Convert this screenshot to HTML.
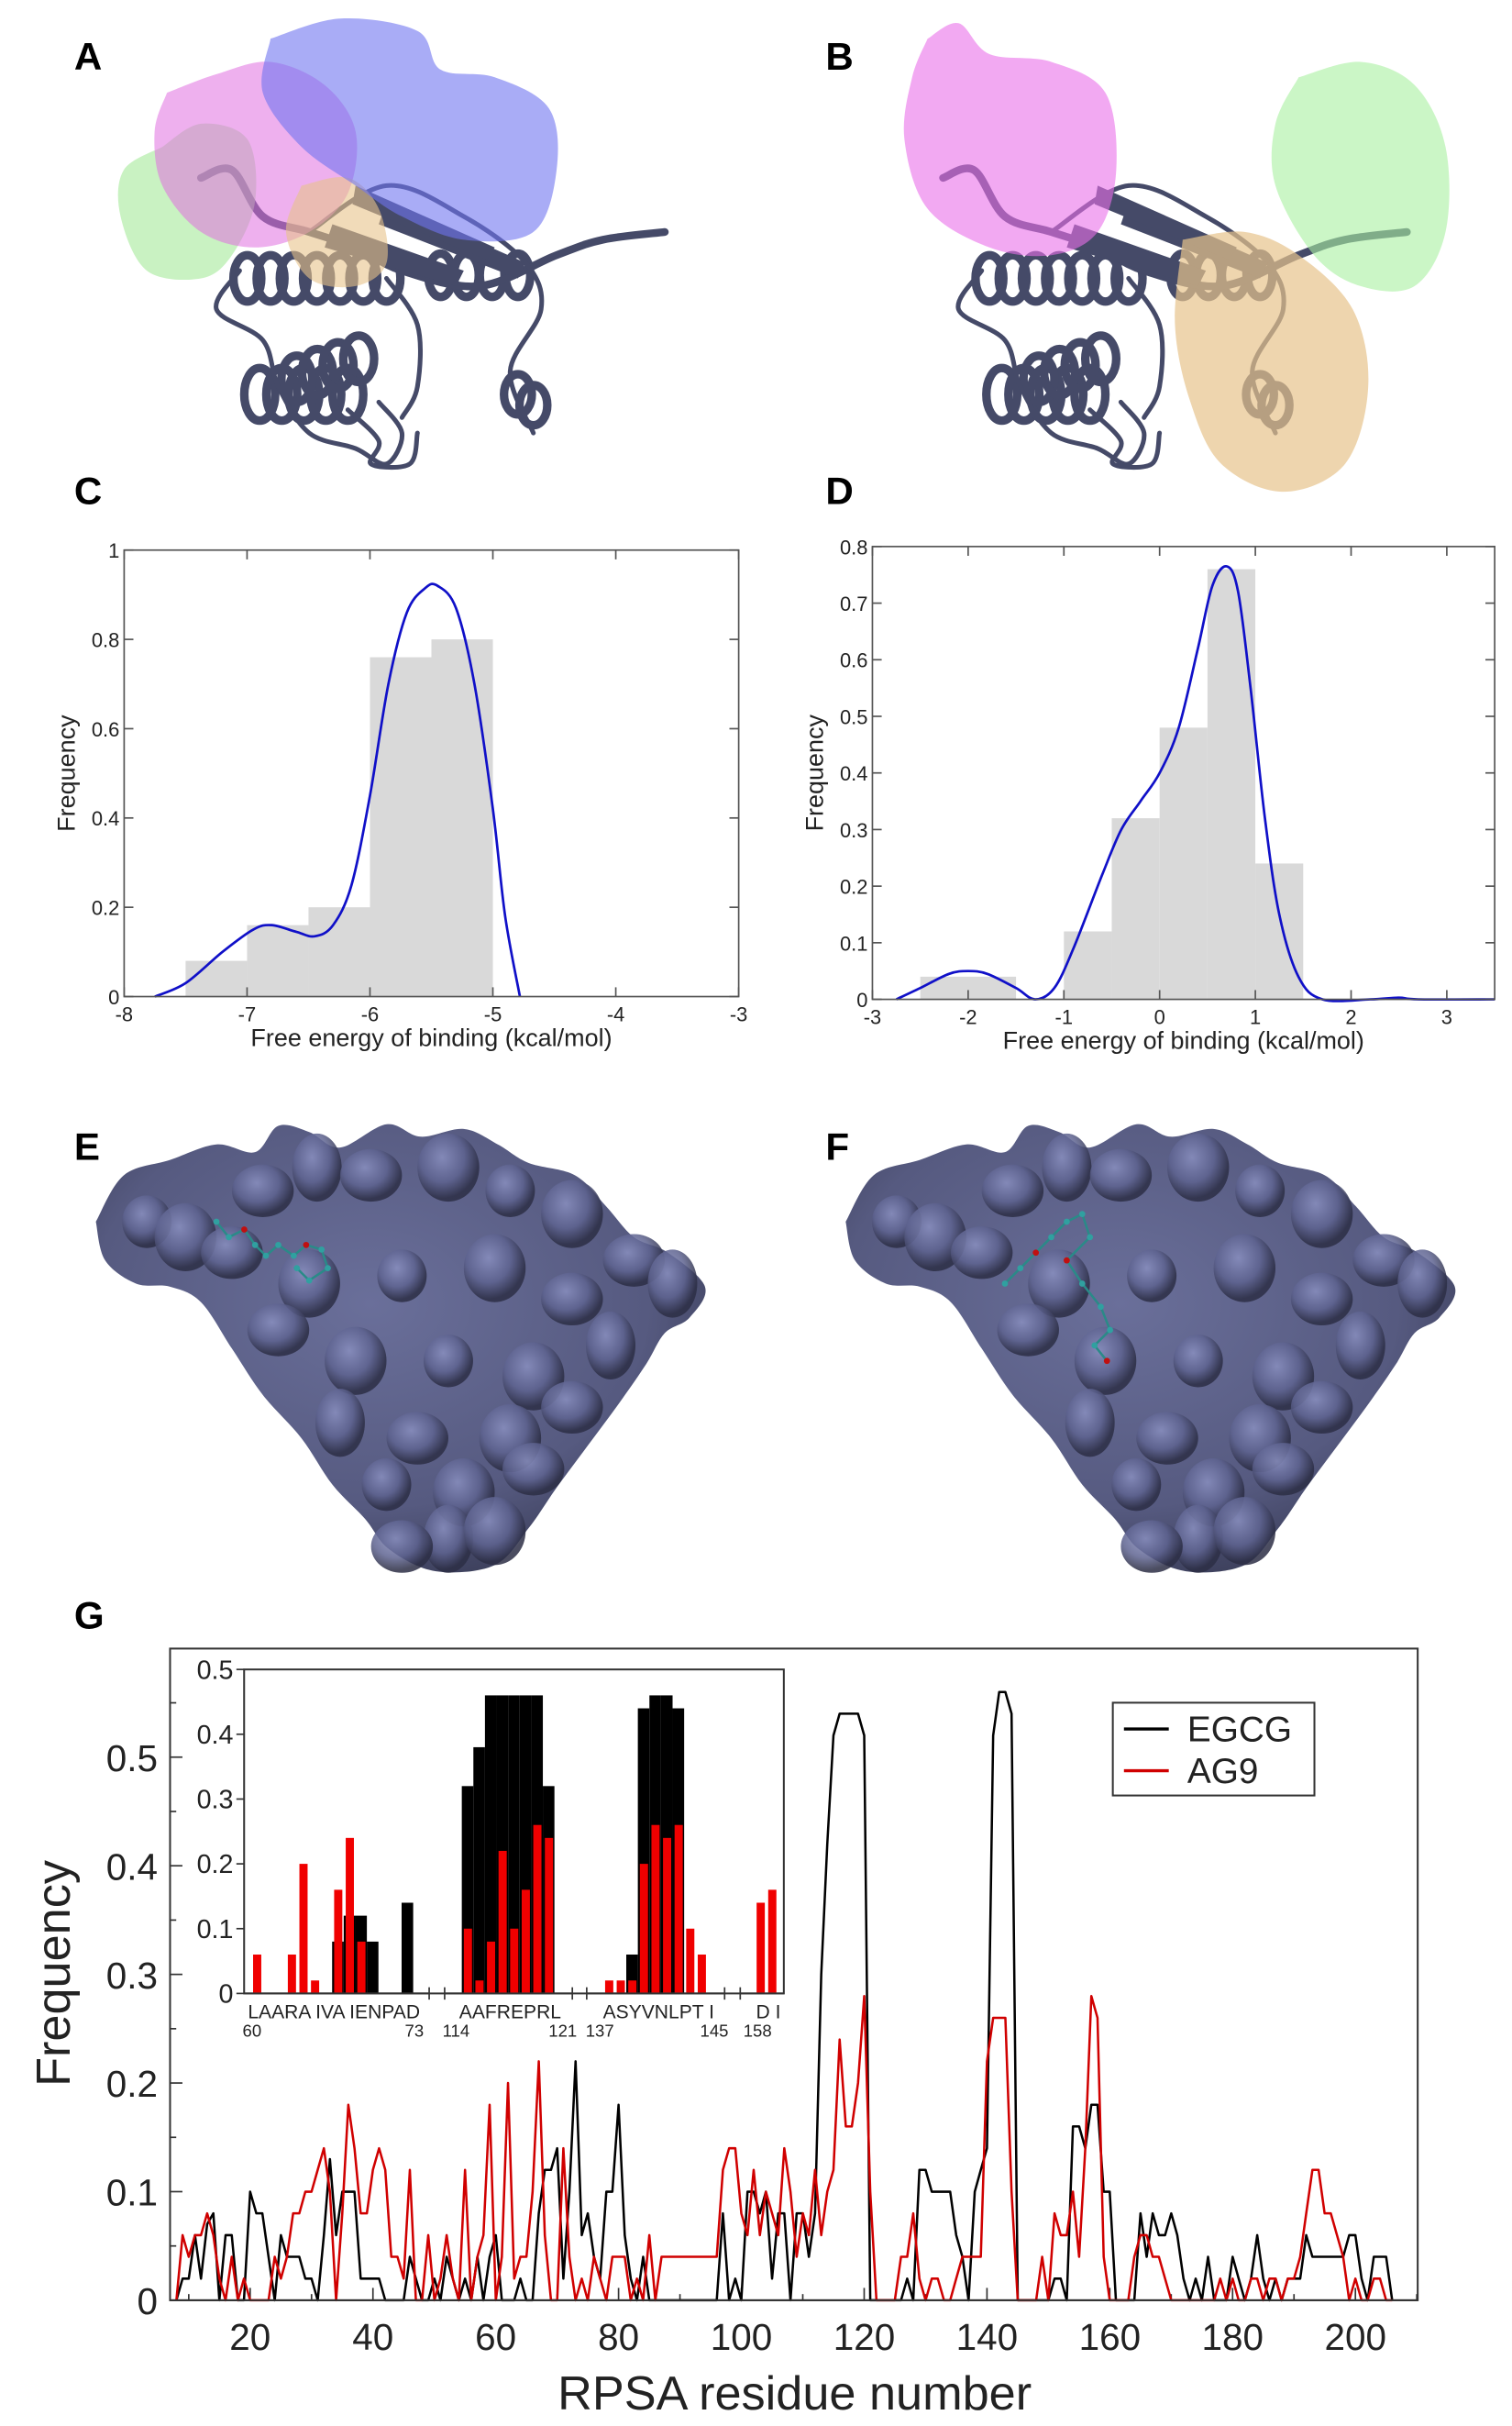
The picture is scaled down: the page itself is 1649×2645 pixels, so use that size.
<!DOCTYPE html>
<html><head><meta charset="utf-8">
<style>html,body{margin:0;padding:0;background:#fff;}svg{display:block;}
text{font-family:"Liberation Sans",sans-serif;}</style></head>
<body>
<svg id="s" xmlns="http://www.w3.org/2000/svg" width="1649" height="2645" viewBox="0 0 978 1568.7" preserveAspectRatio="none">
<defs>
<radialGradient id="surf" cx="45%" cy="40%" r="65%">
<stop offset="0" stop-color="#6a6f9a"/><stop offset="0.7" stop-color="#565a80"/><stop offset="1" stop-color="#3a3d58"/>
</radialGradient>
<radialGradient id="bump" cx="40%" cy="35%" r="60%">
<stop offset="0" stop-color="#8a90c0"/><stop offset="0.6" stop-color="#5e6390"/><stop offset="1" stop-color="#2c2e45"/>
</radialGradient>
</defs>
<rect width="978" height="1568.7" fill="#fff"/>
<g id="g"></g>
<g font-weight="bold" font-size="25" fill="#000">
<text x="48" y="45">A</text><text x="534" y="45">B</text>
<text x="48" y="326">C</text><text x="534" y="326">D</text>
<text x="48" y="750">E</text><text x="534" y="750">F</text>
<text x="48" y="1053">G</text>
</g>
</svg>
<script>
const NS="http://www.w3.org/2000/svg",G=document.getElementById('g');
function el(t,a,txt){const e=document.createElementNS(NS,t);for(const k in a)e.setAttribute(k,a[k]);if(txt!==undefined)e.textContent=txt;G.appendChild(e);return e;}
function smooth(pts){let d="M"+pts[0][0]+","+pts[0][1];for(let i=0;i<pts.length-1;i++){const p0=pts[Math.max(0,i-1)],p1=pts[i],p2=pts[i+1],p3=pts[Math.min(pts.length-1,i+2)];
d+=" C"+(p1[0]+(p2[0]-p0[0])/6)+","+(p1[1]+(p2[1]-p0[1])/6)+" "+(p2[0]-(p3[0]-p1[0])/6)+","+(p2[1]-(p3[1]-p1[1])/6)+" "+p2[0]+","+p2[1];}return d;}
function blob(pts,fill,op){el('path',{d:smooth(pts.concat([pts[0]]))+"Z",fill:fill,'fill-opacity':op});}
const RC="#454a68";
function helix(x0,y0,x1,y1,n,rx,ry){for(let i=0;i<n;i++){const t=i/(n-1||1);el('ellipse',{cx:x0+(x1-x0)*t,cy:y0+(y1-y0)*t,rx:rx,ry:ry,fill:'none',stroke:RC,'stroke-width':5.5});}}
function loop(pts,w){el('path',{d:smooth(pts),fill:'none',stroke:RC,'stroke-width':w||2.5,'stroke-linecap':'round'});}
function protein(dx){
 helix(160+dx,180,250+dx,180,7,9,15);
 helix(285+dx,178,335+dx,178,4,8,14);
 helix(168+dx,255,225+dx,255,5,10,17);
 helix(192+dx,245,232+dx,232,4,10,15);
 helix(335+dx,255,345+dx,262,2,9,13);
 loop([[130+dx,115],[150+dx,110],[170+dx,140],[200+dx,150],[230+dx,160],[260+dx,175],[310+dx,185],[360+dx,165],[390+dx,155],[430+dx,150]],5);
 loop([[200+dx,150],[250+dx,120],[300+dx,140],[340+dx,170],[350+dx,200],[330+dx,240],[345+dx,280]],3);
 loop([[155+dx,175],[140+dx,200],[170+dx,220],[180+dx,250],[200+dx,280],[230+dx,290],[250+dx,300],[260+dx,280],[245+dx,260]],3);
 loop([[250+dx,180],[270+dx,210],[270+dx,250],[260+dx,270]],3);
 loop([[225+dx,265],[245+dx,285],[240+dx,300],[265+dx,300],[270+dx,280]],3);
 el('path',{d:`M${215+dx},145 L${300+dx},175 L${295+dx},185 L${210+dx},160Z`,fill:RC});
 el('path',{d:`M${250+dx},130 L${340+dx},170 L${335+dx},180 L${245+dx},145Z`,fill:RC});
 el('path',{d:`M${230+dx},120 L${320+dx},160 L${315+dx},168 L${228+dx},132Z`,fill:RC});
}
protein(0);
blob([[105,95],[130,80],[160,90],[165,130],[150,165],[130,180],[95,175],[78,140],[80,110]],'#9de88f',0.55);
blob([[108,60],[140,48],[175,40],[210,55],[230,85],[225,125],[200,150],[165,160],[130,150],[105,120],[100,85]],'#e070e0',0.55);
blob([[195,120],[225,115],[245,135],[250,170],[230,185],[200,180],[185,150]],'#e7c38b',0.6);
blob([[175,25],[220,12],[270,20],[285,45],[320,50],[355,70],[360,110],[345,150],[300,155],[260,140],[230,120],[195,95],[170,60]],'#7074f0',0.6);
protein(480);
blob([[600,25],[620,15],[640,35],[680,40],[715,60],[722,110],[710,150],[680,165],[640,160],[600,135],[585,90],[590,50]],'#ea70ea',0.6);
blob([[840,50],[880,40],[915,55],[935,95],[935,150],[915,185],[880,185],[850,165],[825,120],[825,80]],'#a8f0a0',0.6);
blob([[765,155],[805,150],[840,165],[875,200],[885,250],[870,300],[830,318],[790,300],[770,260],[760,210]],'#e7c38b',0.7);
function surf(dx){const p=[[62,790],[80,760],[110,750],[140,740],[165,745],[180,728],[200,732],[220,742],[250,727],[272,735],[300,730],[322,740],[342,752],[372,760],[392,780],[410,800],[432,810],[456,832],[446,852],[430,862],[418,882],[400,908],[380,935],[360,962],[342,988],[320,1012],[282,1016],[252,1002],[236,982],[215,960],[195,930],[170,902],[150,872],[130,842],[110,832],[88,830],[68,815]].map(q=>[q[0]+dx,q[1]]);
 blob(p,'url(#surf)',1);
 const bumps=[[95,790],[120,800],[170,770],[205,755],[240,760],[290,755],[330,770],[370,785],[410,815],[435,830],[150,810],[200,830],[260,825],[320,820],[370,840],[395,870],[180,860],[230,880],[290,880],[345,890],[370,910],[220,920],[270,930],[330,930],[250,960],[300,965],[345,950],[290,995],[260,1000],[320,990]];
 bumps.forEach((b,i)=>{el('ellipse',{cx:b[0]+dx,cy:b[1],rx:i%3?20:16,ry:i%2?22:17,fill:'url(#bump)','fill-opacity':0.85});});
}
surf(0);surf(485);
function mol(pts){for(let i=0;i<pts.length-1;i++)el('line',{x1:pts[i][0],y1:pts[i][1],x2:pts[i+1][0],y2:pts[i+1][1],stroke:'#2a8a88','stroke-width':1.5});pts.forEach((q,i)=>el('circle',{cx:q[0],cy:q[1],r:2,fill:i%5==2?'#c01010':'#30a0a0'}));}
mol([[140,790],[148,800],[158,795],[165,805],[172,812],[180,805],[190,812],[198,805],[208,808],[212,820],[200,828],[192,820]]);
mol([[650,830],[660,820],[670,810],[680,800],[690,790],[700,785],[705,800],[690,815],[700,830],[712,845],[718,860],[708,870],[716,880]]);
function histo(L,R,T,B,xmin,xmax,ymax,bars,curve,xt,yt,ytf,title){
 const X=v=>L+(v-xmin)/(xmax-xmin)*(R-L),Y=v=>B-v/ymax*(B-T);
 bars.forEach(b=>el('rect',{x:X(b[0]),y:Y(b[2]),width:X(b[1])-X(b[0]),height:B-Y(b[2]),fill:'#d9d9d9'}));
 el('path',{d:smooth(curve.map(p=>[X(p[0]),Y(p[1])])),fill:'none',stroke:'#1010c8','stroke-width':1.6});
 el('rect',{x:L,y:T,width:R-L,height:B-T,fill:'none',stroke:'#555','stroke-width':1});
 xt.forEach(v=>{el('line',{x1:X(v),x2:X(v),y1:B,y2:B-6,stroke:'#555'});el('line',{x1:X(v),x2:X(v),y1:T,y2:T+6,stroke:'#555'});el('text',{x:X(v),y:B+16,'font-size':13,'text-anchor':'middle',fill:'#222'},v);});
 yt.forEach(v=>{el('line',{x1:L,x2:L+6,y1:Y(v),y2:Y(v),stroke:'#555'});el('line',{x1:R,x2:R-6,y1:Y(v),y2:Y(v),stroke:'#555'});el('text',{x:L-3,y:Y(v)+5,'font-size':13,'text-anchor':'end',fill:'#222'},ytf(v));});
 el('text',{x:(L+R)/2,y:B+32,'font-size':16,'text-anchor':'middle',fill:'#222'},title);
 el('text',{x:0,y:0,'font-size':16,'text-anchor':'middle',fill:'#222',transform:`translate(${L-32},${(T+B)/2}) rotate(-90)`},'Frequency');
}
histo(80.3,477.8,355.7,644.4,-8,-3,1,
 [[-7.5,-7,0.08],[-7,-6.5,0.16],[-6.5,-6,0.2],[-6,-5.5,0.76],[-5.5,-5,0.8]],
 [[-7.75,0],[-7.5,0.03],[-7.2,0.1],[-6.95,0.15],[-6.8,0.16],[-6.6,0.145],[-6.45,0.135],[-6.3,0.16],[-6.15,0.25],[-6.0,0.45],[-5.85,0.7],[-5.7,0.86],[-5.55,0.915],[-5.45,0.92],[-5.3,0.87],[-5.15,0.7],[-5.0,0.42],[-4.9,0.18],[-4.78,0]],
 [-8,-7,-6,-5,-4,-3],[0,0.2,0.4,0.6,0.8,1],v=>v==0||v==1?String(v):v.toFixed(1),'Free energy of binding (kcal/mol)');
histo(564.3,966.8,353.4,646.2,-3,3.5,0.8,
 [[-2.5,-1.5,0.04],[-1,-0.5,0.12],[-0.5,0,0.32],[0,0.5,0.48],[0.5,1,0.76],[1,1.5,0.24]],
 [[-2.75,0],[-2.5,0.02],[-2.2,0.045],[-2,0.05],[-1.8,0.045],[-1.5,0.02],[-1.3,0],[-1.1,0.02],[-0.9,0.09],[-0.6,0.22],[-0.4,0.3],[-0.2,0.35],[0,0.4],[0.2,0.48],[0.4,0.62],[0.55,0.73],[0.7,0.765],[0.82,0.72],[0.95,0.55],[1.1,0.32],[1.25,0.15],[1.45,0.04],[1.7,0],[2.2,0],[2.5,0.003],[2.7,0],[3.5,0]],
 [-3,-2,-1,0,1,2,3],[0,0.1,0.2,0.3,0.4,0.5,0.6,0.7,0.8],v=>v==0?'0':v.toFixed(1),'Free energy of binding (kcal/mol)');
const GL=110,GR=917,GT=1066,GB=1487.4,GX=r=>161.8+(r-20)*3.9717,GY=v=>GB-v*702.4;
el('rect',{x:GL,y:GT,width:GR-GL,height:GB-GT,fill:'none',stroke:'#333','stroke-width':1.2});
for(let r=20;r<=200;r+=20){el('line',{x1:GX(r),x2:GX(r),y1:GB,y2:GB-8,stroke:'#333'});el('text',{x:GX(r),y:GB+32,'font-size':24,'text-anchor':'middle',fill:'#222'},r);}
for(let r=10;r<=210;r+=20){el('line',{x1:GX(r),x2:GX(r),y1:GB,y2:GB-4,stroke:'#333'});}
[0,0.1,0.2,0.3,0.4,0.5].forEach(v=>{el('line',{x1:GL,x2:GL+8,y1:GY(v),y2:GY(v),stroke:'#333'});el('text',{x:GL-8,y:GY(v)+9,'font-size':24,'text-anchor':'end',fill:'#222'},v==0?'0':v.toFixed(1));});
[0.05,0.15,0.25,0.35,0.45,0.55].forEach(v=>el('line',{x1:GL,x2:GL+4,y1:GY(v),y2:GY(v),stroke:'#333'}));
el('text',{x:514,y:1558,'font-size':31,'text-anchor':'middle',fill:'#222'},'RPSA  residue number');
el('text',{x:0,y:0,'font-size':31,'text-anchor':'middle',fill:'#222',transform:'translate(45,1276) rotate(-90)'},'Frequency');
function series(s,col){const kv={};s.split(/\s+/).filter(x=>x).forEach(t=>{const [a,b]=t.split(':');kv[+a]=+b;});
 let pts=[];for(let r=8;r<=206;r++){pts.push(GX(r).toFixed(1)+","+GY(kv[r]!==undefined?kv[r]:0).toFixed(1));}
 el('polyline',{points:pts.join(' '),fill:'none',stroke:col,'stroke-width':1.5,'stroke-linejoin':'round'});}
series(`9:0.02 10:0.02 11:0.06 12:0.02 13:0.07 14:0.08 16:0.06 17:0.06 20:0.1 21:0.08 22:0.08 23:0.04 25:0.06 26:0.04 27:0.04 28:0.04 29:0.02 30:0.02 32:0.06 33:0.13 34:0.06 35:0.1 36:0.1 37:0.1 38:0.02 39:0.02 40:0.02 41:0.02 46:0.04 47:0.02 50:0.02 52:0.04 53:0.02 55:0.02 57:0.04 59:0.04 60:0.06 64:0.02 67:0.08 68:0.12 69:0.12 70:0.14 71:0.02 72:0.1 73:0.22 74:0.06 75:0.08 76:0.04 77:0.02 78:0.1 79:0.1 80:0.18 81:0.06 82:0.02 84:0.04 97:0.08 99:0.02 101:0.1 102:0.1 103:0.08 104:0.1 105:0.02 106:0.08 107:0.08 109:0.08 110:0.08 111:0.04 112:0.08 113:0.3 114:0.42 115:0.52 116:0.54 117:0.54 118:0.54 119:0.54 120:0.52 127:0.02 129:0.12 130:0.12 131:0.1 132:0.1 133:0.1 134:0.1 135:0.06 136:0.04 138:0.1 139:0.12 140:0.14 141:0.52 142:0.56 143:0.56 144:0.54 151:0.02 152:0.02 154:0.16 155:0.16 156:0.14 157:0.18 158:0.18 159:0.1 160:0.1 165:0.08 166:0.04 167:0.08 168:0.06 169:0.06 170:0.08 171:0.06 172:0.02 174:0.02 176:0.04 180:0.04 181:0.02 183:0.02 184:0.06 185:0.02 187:0.02 189:0.02 190:0.02 191:0.02 192:0.06 193:0.04 194:0.04 195:0.04 196:0.04 197:0.04 198:0.04 199:0.06 200:0.06 201:0.02 203:0.04 204:0.04 205:0.04`,'#000');
series(`9:0.06 10:0.04 11:0.06 12:0.06 13:0.08 14:0.06 15:0.02 17:0.04 19:0.02 24:0.04 25:0.02 26:0.04 27:0.08 28:0.08 29:0.1 30:0.1 31:0.12 32:0.14 33:0.1 35:0.08 36:0.18 37:0.14 38:0.08 39:0.08 40:0.12 41:0.14 42:0.12 43:0.04 44:0.04 45:0.02 46:0.12 49:0.06 51:0.02 52:0.06 53:0.02 55:0.12 57:0.04 58:0.06 59:0.18 61:0.04 62:0.2 63:0.02 64:0.04 65:0.04 66:0.1 67:0.22 68:0.06 71:0.14 72:0.04 74:0.02 76:0.04 77:0.02 79:0.04 80:0.04 81:0.04 83:0.02 85:0.06 87:0.04 88:0.04 89:0.04 90:0.04 91:0.04 92:0.04 93:0.04 94:0.04 95:0.04 96:0.04 97:0.12 98:0.14 99:0.14 100:0.08 101:0.06 102:0.12 103:0.06 104:0.1 105:0.08 106:0.06 107:0.14 108:0.1 109:0.04 110:0.08 111:0.06 112:0.12 113:0.06 114:0.1 115:0.12 116:0.24 117:0.16 118:0.16 119:0.2 120:0.28 121:0.1 126:0.04 127:0.04 128:0.08 129:0.02 131:0.02 132:0.02 135:0.02 136:0.04 137:0.04 138:0.04 139:0.04 140:0.22 141:0.26 142:0.26 143:0.26 144:0.1 149:0.04 151:0.08 152:0.06 153:0.06 154:0.1 155:0.04 156:0.14 157:0.28 158:0.26 159:0.04 164:0.04 165:0.06 166:0.06 167:0.04 168:0.04 169:0.02 178:0.02 180:0.02 183:0.02 184:0.02 186:0.02 187:0.02 189:0.02 190:0.02 191:0.04 192:0.08 193:0.12 194:0.12 195:0.08 196:0.08 197:0.06 198:0.04 200:0.02 203:0.02 204:0.02`,'#d00000');
el('line',{x1:GL,x2:GR,y1:GB,y2:GB,stroke:'#333','stroke-width':1.2});
el('rect',{x:719.8,y:1101,width:130.4,height:60,fill:'#fff',stroke:'#333','stroke-width':1.2});
el('line',{x1:727,x2:756,y1:1118,y2:1118,stroke:'#000','stroke-width':2});
el('line',{x1:727,x2:756,y1:1145,y2:1145,stroke:'#d00000','stroke-width':2});
el('text',{x:768,y:1126,'font-size':23,fill:'#222'},'EGCG');
el('text',{x:768,y:1153,'font-size':23,fill:'#222'},'AG9');
const IL=157.9,IR=507,IT=1079.5,IB=1289,IY=v=>IB-v/0.5*(IB-IT),SW=7.49;
el('rect',{x:IL,y:IT,width:IR-IL,height:IB-IT,fill:'#fff',stroke:'#333','stroke-width':1.2});
[0,0.1,0.2,0.3,0.4,0.5].forEach(v=>{el('line',{x1:IL-5,x2:IL,y1:IY(v),y2:IY(v),stroke:'#333'});el('text',{x:IL-7,y:IY(v)+6,'font-size':17,'text-anchor':'end',fill:'#222'},v==0?'0':v.toFixed(1));});
function grp(x0,data){data.forEach((d,i)=>{const x=x0+i*SW;if(d[0]>0)el('rect',{x:x,y:IY(d[0]),width:SW,height:IB-IY(d[0]),fill:'#000'});if(d[1]>0)el('rect',{x:x+1.3,y:IY(d[1]),width:5.3,height:IB-IY(d[1]),fill:'#f00000'});});}
grp(162.4,[[0,.06],[0,0],[0,0],[0,.06],[0,.2],[0,.02],[0,0],[.08,.16],[.12,.24],[.12,.08],[.08,0],[0,0],[0,0],[.14,0]]);
grp(298.7,[[.32,.1],[.38,.02],[.46,.08],[.46,.22],[.46,.1],[.46,.16],[.46,.26],[.32,.24]]);
grp(390.1,[[0,.02],[0,.02],[.06,.02],[.44,.2],[.46,.26],[.46,.24],[.44,.26],[0,.1],[0,.06]]);
grp(488.1,[[0,.14],[0,.16]]);
[[IL,277.6],[287.6,370.2],[379.5,468.7],[478.8,IR]].forEach(s=>{el('line',{x1:s[0],x2:s[1],y1:IB,y2:IB,stroke:'#333','stroke-width':1.2});[s[0],s[1]].forEach(x=>{if(x!=IL&&x!=IR)el('line',{x1:x,x2:x,y1:IB-4,y2:IB+4,stroke:'#333'});});});
const lab=(x,y,t,fs,a)=>el('text',{x:x,y:y,'font-size':fs,'text-anchor':a||'middle',fill:'#222'},t);
lab(216,1305,'LAARA IVA IENPAD',12.5);lab(330,1305,'AAFREPRL',12.5);lab(426,1305,'ASYVNLPT I',12.5);lab(497,1305,'D I',12.5);
lab(163,1317,'60',11);lab(268,1317,'73',11);lab(295,1317,'114',11);lab(364,1317,'121',11);lab(388,1317,'137',11);lab(462,1317,'145',11);lab(490,1317,'158',11);
</script>
</body></html>
